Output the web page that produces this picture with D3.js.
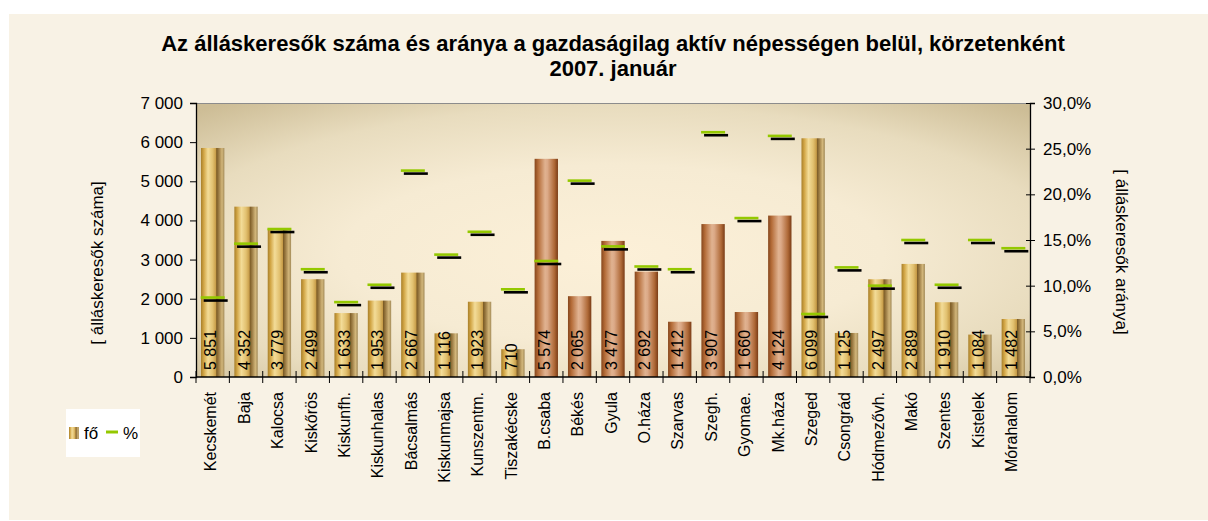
<!DOCTYPE html>
<html><head><meta charset="utf-8">
<script src="https://cdn.jsdelivr.net/npm/d3@7"></script>
<style>
html,body{margin:0;padding:0;background:#fff;}
text{font-family:"Liberation Sans",Arial,sans-serif;fill:#000;}
</style></head>
<body>
<svg id="c" width="1208" height="521"></svg>
<script>
const categories = ["Kecskemét","Baja","Kalocsa","Kiskőrös","Kiskunfh.","Kiskunhalas","Bácsalmás","Kiskunmajsa","Kunszentm.","Tiszakécske","B.csaba","Békés","Gyula","O.háza","Szarvas","Szegh.","Gyomae.","Mk.háza","Szeged","Csongrád","Hódmezővh.","Makó","Szentes","Kistelek","Mórahalom"];
const counts = [5851,4352,3779,2499,1633,1953,2667,1116,1923,710,5574,2065,3477,2692,1412,3907,1660,4124,6099,1125,2497,2889,1910,1084,1482];
const rates = [0.087,0.146,0.162,0.118,0.082,0.101,0.226,0.134,0.159,0.096,0.127,0.215,0.143,0.121,0.118,0.268,0.174,0.264,0.069,0.120,0.100,0.150,0.101,0.150,0.141];
const groups = ["g","g","g","g","g","g","g","g","g","g","c","c","c","c","c","c","c","c","g","g","g","g","g","g","g"];
const leftTicks = [0,1000,2000,3000,4000,5000,6000,7000];
const rightTicks = [0,0.05,0.10,0.15,0.20,0.25,0.30];
const titleLines = ["Az álláskeresők száma és aránya a gazdaságilag aktív népességen belül, körzetenként","2007. január"];
const leftTitle = "[ álláskeresők száma]";
const rightTitle = "[ álláskeresők aránya]";
const legendItems = ["fő","%"];

const loc = d3.formatLocale({decimal:",",thousands:"\u00a0",grouping:[3],currency:["",""]});
const fmtN = loc.format(",");
const fmtP = loc.format(".1%");

const svg = d3.select("#c");
const W=1208,H=521;
const m = {l:196, r:1030, t:103, b:377};

const defs = svg.append("defs");
const bg = defs.append("radialGradient").attr("id","plotbg").attr("cx","0.5").attr("cy","0.55").attr("r","0.72");
[[0,"#fcf0d8"],[0.45,"#f6ebd3"],[0.75,"#e8dcbe"],[1,"#cdbd96"]].forEach(s=>bg.append("stop").attr("offset",s[0]).attr("stop-color",s[1]));
const gg = defs.append("linearGradient").attr("id","gold").attr("x1","0").attr("x2","1").attr("y1","0").attr("y2","0");
[[0,"#a87f2a"],[0.12,"#d2a646"],[0.3,"#f3dc98"],[0.5,"#e2c170"],[0.64,"#c79c48"],[0.67,"#7c5c26"],[0.76,"#9c7c44"],[0.9,"#d2b67a"],[1,"#a28a58"]].forEach(s=>gg.append("stop").attr("offset",s[0]).attr("stop-color",s[1]));
const cg = defs.append("linearGradient").attr("id","copper").attr("x1","0").attr("x2","1").attr("y1","0").attr("y2","0");
[[0,"#86461c"],[0.15,"#b46c38"],[0.45,"#e0b290"],[0.55,"#dcaa88"],[0.85,"#ae6836"],[1,"#7a3c16"]].forEach(s=>cg.append("stop").attr("offset",s[0]).attr("stop-color",s[1]));

svg.append("rect").attr("x",9).attr("y",14).attr("width",W-9).attr("height",H-15).attr("fill","#f8f2e5");

// title
svg.selectAll("text.title").data(titleLines).join("text").attr("class","title")
  .attr("x",613).attr("y",(d,i)=>51+i*25).attr("text-anchor","middle")
  .attr("font-size",22).attr("font-weight","bold").text(d=>d);

const x = d3.scaleBand().domain(categories).range([m.l,m.r]).paddingInner(0.3).paddingOuter(0.15);
const xb = d3.scaleBand().domain(categories).range([m.l,m.r]);
const y = d3.scaleLinear().domain([0,7000]).range([m.b,m.t]);
const y2 = d3.scaleLinear().domain([0,0.30]).range([m.b,m.t]);

svg.append("rect").attr("x",m.l).attr("y",m.t).attr("width",m.r-m.l).attr("height",m.b-m.t).attr("fill","url(#plotbg)");
svg.append("line").attr("x1",m.l).attr("x2",m.r).attr("y1",m.t+0.5).attr("y2",m.t+0.5).attr("stroke","#8c8c8c").attr("stroke-width",1.2);

// bars
svg.append("g").selectAll("rect").data(categories).join("rect")
  .attr("x",d=>x(d)).attr("width",x.bandwidth())
  .attr("y",(d,i)=>y(counts[i])).attr("height",(d,i)=>y(0)-y(counts[i]))
  .attr("fill",(d,i)=>groups[i]==="g"?"url(#gold)":"url(#copper)");

// bar labels
svg.append("g").selectAll("text").data(categories).join("text")
  .attr("transform",(d,i)=>`translate(${xb(d)+xb.bandwidth()/2-2},${m.b-7}) rotate(-90)`)
  .attr("dy","0.36em").attr("font-size",16).text((d,i)=>fmtN(counts[i]));

// percent markers
const mk = svg.append("g");
const mw = 24;
mk.selectAll("line.sh").data(categories).join("line").attr("class","sh")
  .attr("x1",d=>xb(d)+xb.bandwidth()/2-mw/2+3).attr("x2",d=>xb(d)+xb.bandwidth()/2+mw/2+3)
  .attr("y1",(d,i)=>y2(rates[i])+3).attr("y2",(d,i)=>y2(rates[i])+3)
  .attr("stroke","#000").attr("stroke-width",2.6);
mk.selectAll("line.gr").data(categories).join("line").attr("class","gr")
  .attr("x1",d=>xb(d)+xb.bandwidth()/2-mw/2).attr("x2",d=>xb(d)+xb.bandwidth()/2+mw/2)
  .attr("y1",(d,i)=>y2(rates[i])).attr("y2",(d,i)=>y2(rates[i]))
  .attr("stroke","#94c800").attr("stroke-width",2.6);

// left axis
const la = svg.append("g").attr("transform",`translate(${m.l},0)`)
  .call(d3.axisLeft(y).tickValues(leftTicks).tickSize(6).tickPadding(7).tickFormat(d=>fmtN(d)));
la.select(".domain").attr("stroke","#000").attr("stroke-width",1.3);
la.selectAll("text").attr("font-size",17).attr("font-family","Liberation Sans, Arial, sans-serif");
// right axis
const ra = svg.append("g").attr("transform",`translate(${m.r},0)`)
  .call(d3.axisRight(y2).tickValues(rightTicks).tickSize(5).tickPadding(8).tickFormat(d=>fmtP(d)));
ra.selectAll(".tick line").attr("x1",-4);
ra.select(".domain").attr("stroke","#000").attr("stroke-width",1.3);
ra.selectAll("text").attr("font-size",17).attr("font-family","Liberation Sans, Arial, sans-serif");
// bottom axis
const boundaries = d3.range(categories.length+1);
const ba = svg.append("g");
ba.append("line").attr("x1",m.l).attr("x2",m.r).attr("y1",m.b).attr("y2",m.b).attr("stroke","#000").attr("stroke-width",1.3);
ba.selectAll("line.t").data(boundaries).join("line").attr("class","t")
  .attr("x1",i=>m.l+i*xb.step()).attr("x2",i=>m.l+i*xb.step())
  .attr("y1",m.b-6).attr("y2",m.b+6).attr("stroke","#000").attr("stroke-width",1);
ba.selectAll("text").data(categories).join("text")
  .attr("transform",d=>`translate(${xb(d)+xb.bandwidth()/2-2},${m.b+15}) rotate(-90)`)
  .attr("text-anchor","end").attr("dy","0.36em").attr("font-size",16).text(d=>d);

// axis titles
svg.append("text").attr("transform",`translate(103,263) rotate(-90)`).attr("text-anchor","middle")
  .attr("font-size",17).text(leftTitle);
svg.append("text").attr("transform",`translate(1116,252) rotate(90)`).attr("text-anchor","middle")
  .attr("font-size",17).text(rightTitle);

// legend
const lg = svg.append("g");
lg.append("rect").attr("x",66).attr("y",409).attr("width",74).attr("height",48).attr("fill","#fff");
lg.append("rect").attr("x",69).attr("y",427).attr("width",10).attr("height",12).attr("fill","url(#gold)");
lg.append("text").attr("x",84).attr("y",439).attr("font-size",17).text(legendItems[0]);
lg.append("line").attr("x1",106).attr("x2",118).attr("y1",432).attr("y2",432).attr("stroke","#94c800").attr("stroke-width",3);
lg.append("text").attr("x",123).attr("y",439).attr("font-size",17).text(legendItems[1]);
</script>
</body></html>
